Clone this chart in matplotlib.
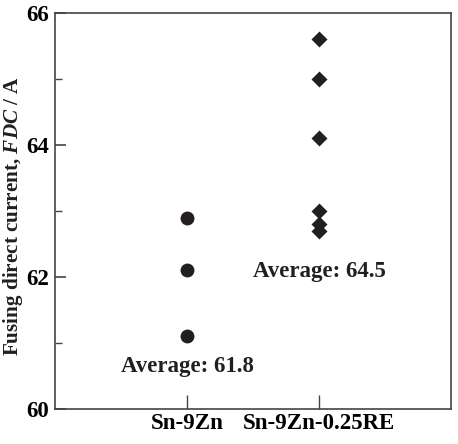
import matplotlib
matplotlib.use("Agg")
import matplotlib.pyplot as plt
from matplotlib.ticker import MultipleLocator

categories = ["Sn-9Zn", "Sn-9Zn-0.25RE"]
sn9zn_values = [62.9, 62.1, 61.1]
sn9zn_re_values = [65.6, 65.0, 64.1, 63.0, 62.8, 62.7]
averages = [61.8, 64.5]

plt.rcParams['font.family'] = ['Liberation Serif', 'DejaVu Serif']
plt.rcParams['font.weight'] = 'bold'
plt.rcParams['mathtext.fontset'] = 'custom'
plt.rcParams['mathtext.rm'] = 'Liberation Serif:bold'
plt.rcParams['mathtext.it'] = 'Liberation Serif:italic:bold'
plt.rcParams['mathtext.bf'] = 'Liberation Serif:bold'

FS = 16.5
fig = plt.figure(figsize=(4.58, 4.44), dpi=100)
ax = fig.add_axes([55/458, 1 - 409/444, 396/458, 396/444])
color = '#231f20'

ax.plot([1]*len(sn9zn_values), sn9zn_values, 'o', color=color, ms=10, mec='none')
ax.plot([2]*len(sn9zn_re_values), sn9zn_re_values, 'D', color=color, ms=8, mec='none')

ax.set_xlim(0, 3)
ax.set_ylim(60, 66)
ax.set_xticks([1, 2])
ax.set_xticklabels(categories, fontsize=FS, fontweight='bold')
ax.yaxis.set_major_locator(MultipleLocator(2))
ax.yaxis.set_minor_locator(MultipleLocator(1))
for lab in ax.get_yticklabels():
    lab.set_fontsize(FS)
    lab.set_fontweight('bold')
ax.tick_params(axis='both', which='both', direction='in', color='#444444')
ax.tick_params(axis='y', which='major', length=8, width=1.2, pad=4)
ax.tick_params(axis='y', which='minor', length=5, width=1.0)
ax.tick_params(axis='x', which='major', length=10, width=1.0, pad=3)
for s in ax.spines.values():
    s.set_linewidth(1.2)
    s.set_color('#444444')

fig.text(13/458, 1 - 216/444, r"Fusing direct current, $\mathit{FDC}$ / A",
         rotation=90, ha='center', va='center', fontsize=15.2, fontweight='bold', color=color)

ax.text(1, 60.56, f"Average: {averages[0]}", ha='center', va='baseline', fontsize=FS, fontweight='bold', color=color)
ax.text(2, 62.0, f"Average: {averages[1]}", ha='center', va='baseline', fontsize=FS, fontweight='bold', color=color)

fig.savefig("out.png", dpi=100)
